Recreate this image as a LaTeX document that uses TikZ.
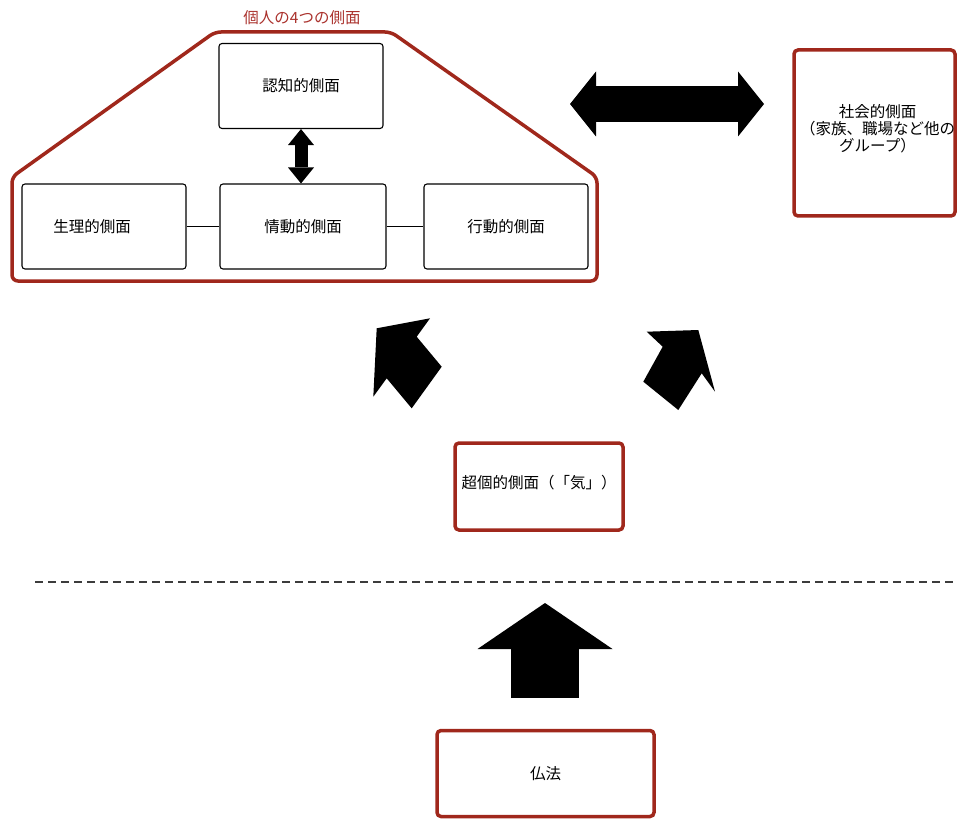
\documentclass[tikz,border=0pt]{standalone}
\usepackage{fontspec}
\setmainfont{Noto Sans CJK JP}
\usetikzlibrary{arrows.meta}
\definecolor{framered}{RGB}{160,40,28}
\definecolor{labelred}{RGB}{170,50,45}
\definecolor{dashgray}{RGB}{60,60,60}
\begin{document}
\begin{tikzpicture}[x=1pt,y=-1pt,
  txt/.style={font=\fontsize{15.5pt}{17pt}\selectfont},
  aspect/.style={draw=black, line width=1.1pt, rounded corners=3pt,
    minimum width=164pt, minimum height=85pt, inner sep=0pt, txt},
  redbox/.style={draw=framered, line width=3.5pt, rounded corners=4pt,
    inner sep=0pt, txt},
  thinlink/.style={draw=black, line width=1.1pt},
]
\useasboundingbox (0,0) rectangle (957,818);

% group of the four individual aspects
\draw[framered, line width=3.5pt, rounded corners=6pt]
  (215,32) -- (391,32) -- (597,177) -- (597,281) -- (12,281) -- (12,177) -- cycle;
\node[txt, text=labelred] (title) at (302,18) {個人の4つの側面};

\node[aspect] (ninchi) at (301,86) {認知的側面};
\node[aspect, label={[txt, xshift=-12pt]center:生理的側面}] (seiri) at (104,226.5) {};
\node[aspect, minimum width=166pt] (jodo) at (303,226.5) {情動的側面};
\node[aspect] (kodo) at (506,226.5) {行動的側面};

\draw[thinlink] (seiri.east) -- (jodo.west);
\draw[thinlink] (jodo.east) -- (kodo.west);
\draw[line width=13pt, {Triangle[length=16pt,width=26pt,line width=0pt]}-{Triangle[length=16pt,width=26pt,line width=0pt]}]
  (ninchi.south) -- (ninchi.south |- jodo.north);

% social aspect
\node[redbox, minimum width=161pt, minimum height=166pt,
  label={[txt, align=center, xshift=3pt, yshift=4pt]center:社会的側面\\（家族、職場など他の\\グループ）}]
  (shakai) at (874.5,133) {};
\coordinate (hl) at (570,104);
\coordinate (hr) at (764,104);
\draw[line width=36pt, {Triangle[length=26pt,width=65pt,line width=0pt]}-{Triangle[length=26pt,width=65pt,line width=0pt]}]
  (hl) -- (hr);

% trans-individual aspect
\node[redbox, minimum width=168pt, minimum height=87pt,
  label={[txt, yshift=3.5pt]center:超個的側面（「気」）}]
  (choko) at (539,486.5) {};

% block arrows rising from it
\fill[black] (376.7,328.3) -- (430,318.3) -- (416.7,336.7) -- (441.7,366.7)
  -- (411.7,408.3) -- (386.7,378.3) -- (373.3,396.7) -- cycle;
\fill[black] (698.3,330) -- (646.7,331.7) -- (662.7,346.7) -- (643.3,381.7)
  -- (678.3,410) -- (701.7,373.3) -- (715,391.7) -- cycle;

% dividing line
\coordinate (dl) at (35,582);
\coordinate (dr) at (957,582);
\draw[dashgray, line width=1.6pt, dash pattern=on 8pt off 5pt] (dl) -- (dr);

% dharma
\node[redbox, minimum width=217pt, minimum height=86pt] (buppo) at (545.5,773.5) {仏法};
\coordinate (ub) at (545,698);
\coordinate (ut) at (545,603);
\draw[line width=68pt, -{Triangle[length=46pt,width=135pt,line width=0pt]}] (ub) -- (ut);
\end{tikzpicture}
\end{document}
